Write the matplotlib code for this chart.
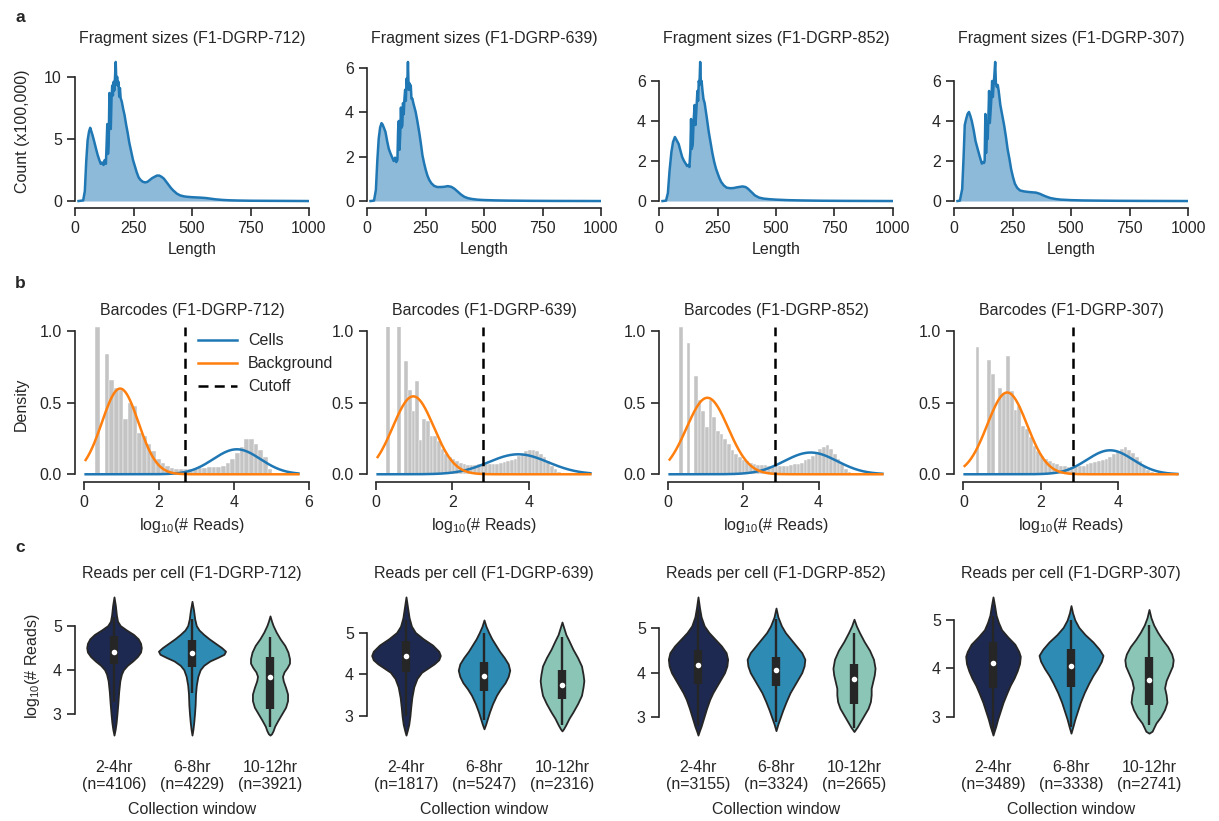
import numpy as np
import matplotlib
matplotlib.use('Agg')
import matplotlib.pyplot as plt

# ---------------- DATA ----------------

SAMPLES = ['F1-DGRP-712', 'F1-DGRP-639', 'F1-DGRP-852', 'F1-DGRP-307']

# a: fragment size distributions (count x100,000)
frag_len_712 = [15, 35, 42, 48, 54, 60, 65, 70, 75, 82, 90, 97, 104, 110, 116, 122, 127, 132, 135, 138,
                141, 144, 147, 150, 153, 156, 159, 162, 165, 168, 171, 174, 177, 180, 183, 186, 189, 192, 195, 200,
                206, 212, 218, 225, 232, 240, 248, 256, 264, 272, 280, 290, 300, 310, 320, 330, 340, 350, 360, 370,
                380, 390, 400, 410, 420, 435, 450, 465, 480, 500, 520, 540, 560, 580, 600, 630, 660, 700, 750, 800,
                900, 1000]
frag_cnt_712 = [0, 0.05, 0.8, 3.2, 4.9, 5.6, 5.9, 5.6, 5.3, 4.8, 4.2, 3.7, 3.3, 3.0, 3.1, 2.9, 3.3, 3.0, 4.5, 6.2,
                3.8, 4.6, 8.7, 6.0, 5.8, 8.2, 9.3, 8.5, 9.6, 8.9, 10.0, 11.2, 9.4, 10.0, 9.3, 9.6, 8.4, 9.1, 8.3, 8.0,
                7.4, 6.9, 6.2, 5.5, 4.7, 4.0, 3.3, 2.8, 2.3, 1.9, 1.7, 1.55, 1.5, 1.55, 1.7, 1.85, 1.95, 2.05, 2.05, 1.95,
                1.8, 1.55, 1.3, 1.05, 0.85, 0.6, 0.45, 0.38, 0.34, 0.31, 0.29, 0.27, 0.24, 0.19, 0.14, 0.09, 0.06, 0.04,
                0.025, 0.02, 0.01, 0.0]

frag_len_639 = [15, 30, 38, 44, 50, 56, 62, 66, 72, 79, 86, 93, 100, 108, 114, 120, 125, 130, 133, 136,
                139, 142, 145, 148, 151, 154, 157, 160, 163, 166, 169, 172, 175, 178, 181, 184, 187, 190, 194, 198,
                203, 208, 215, 223, 230, 237, 244, 251, 258, 266, 275, 287, 300, 316, 330, 345, 360, 374, 388, 402,
                416, 431, 450, 474, 500, 546, 600, 650, 700, 800, 1000]
frag_cnt_639 = [0, 0.02, 0.5, 1.8, 2.8, 3.3, 3.5, 3.45, 3.3, 3.1, 2.7, 2.35, 2.15, 1.95, 1.8, 1.95, 1.75, 1.85, 3.2, 3.6,
                2.3, 3.0, 4.2, 3.3, 3.4, 4.4, 3.9, 4.6, 5.0, 4.5, 5.5, 5.2, 6.25, 5.0, 5.3, 5.0, 5.2, 4.6, 4.6, 4.4,
                4.2, 4.0, 3.6, 3.1, 2.6, 2.05, 1.7, 1.4, 1.15, 0.95, 0.8, 0.68, 0.63, 0.63, 0.64, 0.67, 0.64, 0.55, 0.42, 0.29,
                0.19, 0.13, 0.09, 0.06, 0.045, 0.03, 0.02, 0.015, 0.01, 0.005, 0]

frag_len_852 = [15, 30, 38, 45, 53, 60, 68, 75, 84, 92, 99, 107, 114, 120, 126, 130, 134, 137, 140, 144,
                148, 152, 156, 160, 164, 167, 170, 173, 176, 179, 182, 186, 190, 195, 200, 205, 212, 220, 228, 236,
                244, 251, 258, 266, 277, 289, 304, 319, 335, 357, 370, 380, 395, 410, 428, 448, 475, 501, 550, 608,
                700, 800, 1000]
frag_cnt_852 = [0, 0.02, 0.4, 1.5, 2.45, 2.95, 3.2, 3.05, 2.85, 2.5, 2.2, 2.0, 1.87, 1.75, 1.8, 1.7, 2.5, 4.1, 2.6, 2.8,
                4.0, 4.8, 3.8, 4.6, 5.5, 5.0, 6.0, 5.8, 6.95, 5.9, 6.0, 5.5, 5.1, 4.9, 4.5, 4.1, 3.5, 2.95, 2.4, 1.95,
                1.6, 1.37, 1.15, 0.95, 0.78, 0.67, 0.64, 0.65, 0.69, 0.73, 0.7, 0.62, 0.45, 0.28, 0.17, 0.12, 0.09, 0.07,
                0.045, 0.03, 0.015, 0.008, 0]

frag_len_307 = [15, 25, 35, 41, 46, 52, 58, 64, 70, 76, 84, 92, 100, 107, 113, 119, 124, 128, 131, 134,
                137, 140, 144, 147, 150, 153, 156, 160, 163, 166, 169, 172, 176, 179, 183, 187, 191, 195, 198, 206,
                214, 222, 229, 237, 244, 252, 260, 270, 282, 300, 321, 351, 367, 382, 397, 412, 435, 458, 500, 550,
                620, 700, 800, 1000]
frag_cnt_307 = [0, 0.02, 0.6, 2.2, 3.8, 4.1, 4.35, 4.45, 4.25, 4.0, 3.55, 3.0, 2.65, 2.35, 2.1, 1.87, 1.95, 1.9, 2.0, 4.35,
                2.4, 3.2, 3.1, 4.2, 5.5, 3.9, 4.4, 5.2, 6.0, 5.2, 5.8, 6.2, 6.95, 5.9, 5.7, 5.8, 5.5, 5.1, 4.8, 4.3,
                3.8, 3.2, 2.6, 2.1, 1.6, 1.2, 0.87, 0.66, 0.53, 0.48, 0.45, 0.42, 0.36, 0.28, 0.21, 0.15, 0.1, 0.07,
                0.045, 0.03, 0.02, 0.012, 0.007, 0]

# b: barcode read-count histograms (density) with fitted mixture components
bin_start = [0.31, 0.27, 0.31, 0.316]
bin_width = [0.124, 0.095, 0.097, 0.098]
hist_712 = [1.03, 0, 0.84, 0.66, 0.60, 0.59, 0.39, 0.50, 0.48, 0.29, 0.27, 0.21, 0.16, 0.11, 0.08, 0.055, 0.045,
            0.04, 0.035, 0.035, 0.035, 0.04, 0.045, 0.045, 0.05, 0.05, 0.05, 0.06, 0.08, 0.11, 0.15, 0.19, 0.25,
            0.25, 0.21, 0.17, 0.12, 0.04]
hist_639 = [1.2, 0, 0, 1.2, 0, 0.79, 0.59, 0.44, 0.65, 0.24, 0.39, 0.37, 0.27, 0.27, 0.23, 0.18, 0.145, 0.12,
            0.11, 0.09, 0.08, 0.07, 0.065, 0.065, 0.065, 0.07, 0.07, 0.07, 0.07, 0.075, 0.075, 0.08, 0.085, 0.09,
            0.10, 0.11, 0.13, 0.14, 0.16, 0.17, 0.17, 0.16, 0.14, 0.12, 0.09, 0.06, 0.035, 0.015, 0.005]
hist_852 = [1.03, 0, 0.92, 0, 0.69, 0.52, 0.44, 0.33, 0.52, 0.40, 0.30, 0.285, 0.25, 0.21, 0.17, 0.145, 0.12,
            0.10, 0.09, 0.08, 0.07, 0.065, 0.065, 0.065, 0.06, 0.06, 0.06, 0.055, 0.055, 0.06, 0.065, 0.07, 0.075,
            0.08, 0.10, 0.11, 0.13, 0.15, 0.18, 0.19, 0.205, 0.18, 0.14, 0.11, 0.07, 0.04, 0.015]
hist_307 = [0.89, 0, 0, 0.80, 0.70, 0, 0.60, 0.57, 0.83, 0.58, 0.45, 0.48, 0.34, 0.32, 0.26, 0.20, 0.16, 0.13,
            0.11, 0.09, 0.08, 0.07, 0.06, 0.055, 0.05, 0.05, 0.05, 0.055, 0.06, 0.07, 0.08, 0.085, 0.09, 0.10,
            0.11, 0.12, 0.14, 0.16, 0.18, 0.19, 0.17, 0.15, 0.12, 0.09, 0.06, 0.03, 0.015, 0.005]
# fitted components: (mean, sd, weight)
bg_fit = [(0.97, 0.486, 0.73), (0.98, 0.535, 0.731), (1.05, 0.551, 0.739), (1.13, 0.514, 0.737)]
cell_fit = [(4.08, 0.63, 0.276), (3.72, 0.776, 0.272), (3.79, 0.70, 0.267), (3.79, 0.597, 0.251)]
reads_range = [(0.05, 5.72), (0.05, 5.60), (0.05, 5.69), (0.03, 5.53)]
cutoffs = [2.69, 2.80, 2.85, 2.83]

# c: reads per cell violins, outline as (log10 reads, half width)
windows = ['2-4hr', '6-8hr', '10-12hr']
n_cells = [[4106, 4229, 3921], [1817, 5247, 2316], [3155, 3324, 2665], [3489, 3338, 2741]]

viol_712 = [
    [(5.65, 0), (5.45, 0.018), (5.25, 0.03), (5.1, 0.045), (5.0, 0.08), (4.9, 0.16), (4.8, 0.25), (4.7, 0.31),
     (4.6, 0.34), (4.5, 0.35), (4.4, 0.34), (4.3, 0.30), (4.2, 0.24), (4.1, 0.17), (4.0, 0.12), (3.9, 0.095),
     (3.75, 0.075), (3.5, 0.06), (3.25, 0.05), (3.0, 0.038), (2.8, 0.027), (2.65, 0.015), (2.52, 0)],
    [(5.55, 0), (5.35, 0.02), (5.15, 0.035), (5.0, 0.055), (4.9, 0.09), (4.8, 0.15), (4.7, 0.22), (4.6, 0.30),
     (4.5, 0.38), (4.42, 0.43), (4.35, 0.41), (4.28, 0.33), (4.2, 0.23), (4.1, 0.15), (4.0, 0.105), (3.85, 0.075),
     (3.65, 0.055), (3.45, 0.045), (3.2, 0.04), (3.0, 0.032), (2.8, 0.022), (2.65, 0.012), (2.52, 0)],
    [(5.22, 0), (5.1, 0.02), (5.0, 0.04), (4.85, 0.08), (4.7, 0.13), (4.55, 0.19), (4.4, 0.23), (4.25, 0.25),
     (4.15, 0.25), (4.05, 0.22), (3.95, 0.18), (3.85, 0.16), (3.75, 0.17), (3.6, 0.2), (3.45, 0.225), (3.3, 0.225),
     (3.15, 0.2), (3.0, 0.15), (2.85, 0.1), (2.72, 0.06), (2.62, 0.04), (2.55, 0.02), (2.52, 0)],
]
viol_639 = [
    [(5.85, 0), (5.6, 0.02), (5.35, 0.04), (5.15, 0.07), (5.0, 0.12), (4.85, 0.22), (4.7, 0.34), (4.55, 0.42),
     (4.45, 0.44), (4.35, 0.42), (4.25, 0.36), (4.15, 0.28), (4.05, 0.2), (3.9, 0.14), (3.7, 0.1), (3.45, 0.075),
     (3.2, 0.06), (3.0, 0.05), (2.8, 0.035), (2.65, 0.015), (2.55, 0)],
    [(5.3, 0), (5.15, 0.025), (5.0, 0.06), (4.85, 0.1), (4.7, 0.15), (4.55, 0.2), (4.4, 0.26), (4.25, 0.31),
     (4.1, 0.33), (3.95, 0.31), (3.8, 0.27), (3.65, 0.21), (3.5, 0.16), (3.3, 0.11), (3.1, 0.07), (2.95, 0.045),
     (2.8, 0.02), (2.7, 0)],
    [(5.25, 0), (5.1, 0.025), (4.95, 0.05), (4.8, 0.09), (4.6, 0.14), (4.4, 0.2), (4.2, 0.25), (4.0, 0.27),
     (3.85, 0.28), (3.7, 0.27), (3.5, 0.25), (3.3, 0.2), (3.1, 0.14), (2.95, 0.09), (2.8, 0.05), (2.7, 0.02),
     (2.65, 0)],
]
viol_852 = [
    [(5.7, 0), (5.45, 0.02), (5.25, 0.04), (5.05, 0.08), (4.9, 0.14), (4.75, 0.22), (4.6, 0.3), (4.45, 0.36),
     (4.3, 0.38), (4.15, 0.37), (4.0, 0.34), (3.85, 0.29), (3.7, 0.24), (3.55, 0.19), (3.4, 0.15), (3.2, 0.11),
     (3.0, 0.075), (2.8, 0.04), (2.68, 0.015), (2.6, 0)],
    [(5.45, 0), (5.25, 0.025), (5.05, 0.07), (4.9, 0.12), (4.75, 0.19), (4.6, 0.26), (4.45, 0.33), (4.3, 0.37),
     (4.15, 0.36), (4.0, 0.33), (3.85, 0.28), (3.7, 0.23), (3.55, 0.18), (3.35, 0.13), (3.15, 0.085), (3.0, 0.055),
     (2.85, 0.025), (2.7, 0)],
    [(5.2, 0), (5.05, 0.03), (4.9, 0.07), (4.7, 0.13), (4.5, 0.2), (4.3, 0.25), (4.1, 0.27), (3.95, 0.26),
     (3.8, 0.24), (3.65, 0.22), (3.5, 0.22), (3.35, 0.21), (3.2, 0.18), (3.05, 0.13), (2.9, 0.08), (2.78, 0.04),
     (2.68, 0)],
]
viol_307 = [
    [(5.48, 0), (5.3, 0.02), (5.1, 0.04), (4.95, 0.07), (4.8, 0.11), (4.65, 0.19), (4.5, 0.28), (4.35, 0.33),
     (4.25, 0.35), (4.1, 0.34), (3.95, 0.31), (3.8, 0.27), (3.65, 0.22), (3.5, 0.18), (3.3, 0.13), (3.1, 0.09),
     (2.95, 0.06), (2.8, 0.035), (2.7, 0.015), (2.62, 0)],
    [(5.3, 0), (5.15, 0.02), (5.0, 0.05), (4.85, 0.1), (4.7, 0.18), (4.55, 0.28), (4.4, 0.36), (4.27, 0.41),
     (4.15, 0.39), (4.0, 0.34), (3.85, 0.28), (3.7, 0.23), (3.5, 0.17), (3.3, 0.12), (3.1, 0.08), (2.95, 0.05),
     (2.8, 0.025), (2.66, 0)],
    [(5.22, 0), (5.05, 0.025), (4.9, 0.06), (4.75, 0.11), (4.6, 0.17), (4.45, 0.24), (4.3, 0.29), (4.18, 0.31),
     (4.05, 0.3), (3.9, 0.26), (3.75, 0.22), (3.6, 0.2), (3.45, 0.22), (3.3, 0.23), (3.15, 0.2), (3.0, 0.15),
     (2.87, 0.09), (2.77, 0.06), (2.7, 0.04), (2.66, 0)],
]
# box stats: (q1, median, q3, whisker low, whisker high)
box_712 = [(4.12, 4.41, 4.76, 3.27, 5.2), (4.06, 4.37, 4.67, 3.47, 5.15), (3.11, 3.84, 4.28, 2.7, 4.75)]
box_639 = [(4.05, 4.45, 4.8, 3.0, 5.3), (3.6, 3.97, 4.3, 2.9, 5.0), (3.4, 3.75, 4.1, 2.8, 4.9)]
box_852 = [(3.75, 4.18, 4.5, 2.8, 5.4), (3.7, 4.05, 4.35, 2.9, 5.2), (3.3, 3.85, 4.2, 2.75, 4.9)]
box_307 = [(3.59, 4.12, 4.54, 2.68, 5.08), (3.62, 4.05, 4.41, 2.78, 5.0), (3.24, 3.76, 4.23, 2.82, 4.9)]

# ---------------- STYLE ----------------

TEXT = '#262626'
BLUE = '#1f77b4'
ORANGE = '#ff7f0e'
VIOLIN_COLOURS = ['#1d2951', '#2e8bb3', '#8ac5b6']
FS = 11.5

plt.rcParams['font.family'] = ['Liberation Sans', 'DejaVu Sans']
plt.rcParams['mathtext.default'] = 'regular'
plt.rcParams['font.size'] = FS
plt.rcParams['text.color'] = TEXT
plt.rcParams['axes.labelcolor'] = TEXT
plt.rcParams['xtick.color'] = TEXT
plt.rcParams['ytick.color'] = TEXT
plt.rcParams['axes.edgecolor'] = TEXT
plt.rcParams['axes.linewidth'] = 1.2
plt.rcParams['xtick.major.width'] = 1.2
plt.rcParams['ytick.major.width'] = 1.2
plt.rcParams['xtick.major.size'] = 5.5
plt.rcParams['ytick.major.size'] = 5.5
plt.rcParams['xtick.major.pad'] = 4
plt.rcParams['ytick.major.pad'] = 4

fig = plt.figure(figsize=(12.19, 8.21), dpi=100)
W, H = 1219, 821
col_left = [75, 367, 659, 954]
ax_w = 234
rows = {'a': (55, 208), 'b': (327, 482), 'c': (590, 742)}


def make_ax(col, row):
    top, bottom = rows[row]
    return fig.add_axes([col_left[col] / W, 1 - bottom / H, ax_w / W, (bottom - top) / H])


def style(ax, xb, yb):
    ax.spines['top'].set_visible(False)
    ax.spines['right'].set_visible(False)
    if xb is None:
        ax.spines['bottom'].set_visible(False)
    else:
        ax.spines['bottom'].set_bounds(*xb)
    ax.spines['left'].set_bounds(*yb)


frags = [(frag_len_712, frag_cnt_712), (frag_len_639, frag_cnt_639),
         (frag_len_852, frag_cnt_852), (frag_len_307, frag_cnt_307)]
hists = [hist_712, hist_639, hist_852, hist_307]
violins = [viol_712, viol_639, viol_852, viol_307]
boxes = [box_712, box_639, box_852, box_307]


def gauss(x, m, s, w):
    return w * np.exp(-0.5 * ((x - m) / s) ** 2) / (s * np.sqrt(2 * np.pi))


for i, name in enumerate(SAMPLES):
    # ---- row a
    ax = make_ax(i, 'a')
    L, C = frags[i]
    ax.fill_between(L, C, color=BLUE, alpha=0.5, lw=0)
    ax.plot(L, C, color=BLUE, lw=1.8)
    ax.set_xlim(0, 1000)
    top = max(C)
    ax.set_ylim(-0.05 * top, top * 1.05)
    ax.set_xticks([0, 250, 500, 750, 1000])
    if i == 0:
        ax.set_yticks([0, 5, 10])
        style(ax, (0, 1000), (0, 10))
        ax.set_ylabel('Count (x100,000)', labelpad=10)
    else:
        ax.set_yticks([0, 2, 4, 6])
        style(ax, (0, 1000), (0, 6))
    ax.set_xlabel('Length')
    ax.set_title(f'Fragment sizes ({name})', fontsize=FS, pad=9)

    # ---- row b
    ax = make_ax(i, 'b')
    h = hists[i]
    edges = bin_start[i] + bin_width[i] * np.arange(len(h))
    ax.bar(edges, h, width=bin_width[i], align='edge', color='#c4c4c4',
           edgecolor='white', linewidth=0.3, zorder=1)
    xs = np.linspace(reads_range[i][0], reads_range[i][1], 300)
    ax.plot(xs, gauss(xs, *cell_fit[i]), color=BLUE, lw=1.8, label='Cells', zorder=3)
    ax.plot(xs, gauss(xs, *bg_fit[i]), color=ORANGE, lw=1.8, label='Background', zorder=3)
    ax.axvline(cutoffs[i], color='black', lw=1.8, ls=(0, (4, 2.5)), label='Cutoff', zorder=4)
    lo, hi = reads_range[i]
    pad = 0.05 * (hi - lo)
    ax.set_xlim(lo - pad, hi + pad)
    ax.set_ylim(-0.054, 1.03)
    ax.set_yticks([0, 0.5, 1.0])
    ax.set_yticklabels(['0.0', '0.5', '1.0'])
    xt = [0, 2, 4, 6] if hi + pad >= 6 else [0, 2, 4]
    ax.set_xticks(xt)
    style(ax, (0, xt[-1]), (0, 1.0))
    ax.set_xlabel('log$_{10}$(# Reads)')
    ax.set_title(f'Barcodes ({name})', fontsize=FS, pad=9)
    if i == 0:
        ax.set_ylabel('Density', labelpad=8)
        ax.legend(loc='upper left', bbox_to_anchor=(0.5, 1.0), frameon=False,
                  handlelength=2.4, labelspacing=0.5, handletextpad=0.7, borderaxespad=0)

    # ---- row c
    ax = make_ax(i, 'c')
    for j in range(3):
        prof = violins[i][j]
        ys = [p[0] for p in prof]
        ws = np.array([p[1] for p in prof])
        ax.fill_betweenx(ys, j - ws, j + ws, facecolor=VIOLIN_COLOURS[j],
                         edgecolor=TEXT, linewidth=1.3, zorder=2)
        q1, med, q3, wlo, whi = boxes[i][j]
        ax.vlines(j, wlo, whi, color=TEXT, lw=1.7, zorder=3)
        ax.vlines(j, q1, q3, color=TEXT, lw=6, zorder=3)
        ax.scatter([j], [med], s=16, color='white', zorder=4, linewidths=0)
    ax.set_xlim(-0.5, 2.5)
    all_y = [p[0] for v in violins[i] for p in v]
    ymin, ymax = min(all_y), max(all_y)
    m = 0.05 * (ymax - ymin)
    ax.set_ylim(ymin - m, ymax + m)
    ax.set_yticks([3, 4, 5])
    ax.set_xticks([0, 1, 2])
    ax.set_xticklabels([f'{w}\n(n={n})' for w, n in zip(windows, n_cells[i])])
    ax.tick_params(axis='x', length=0, pad=13)
    style(ax, None, (3, 5))
    ax.set_xlabel('Collection window', labelpad=7)
    ax.set_title(f'Reads per cell ({name})', fontsize=FS, pad=9)
    if i == 0:
        ax.set_ylabel('log$_{10}$(# Reads)', labelpad=8)

for letter, ypix in [('a', 17), ('b', 283), ('c', 548)]:
    fig.text(20 / W, 1 - ypix / H, letter, fontsize=12.5, fontweight='bold', ha='center', va='center')

fig.savefig('out.png', dpi=100)
